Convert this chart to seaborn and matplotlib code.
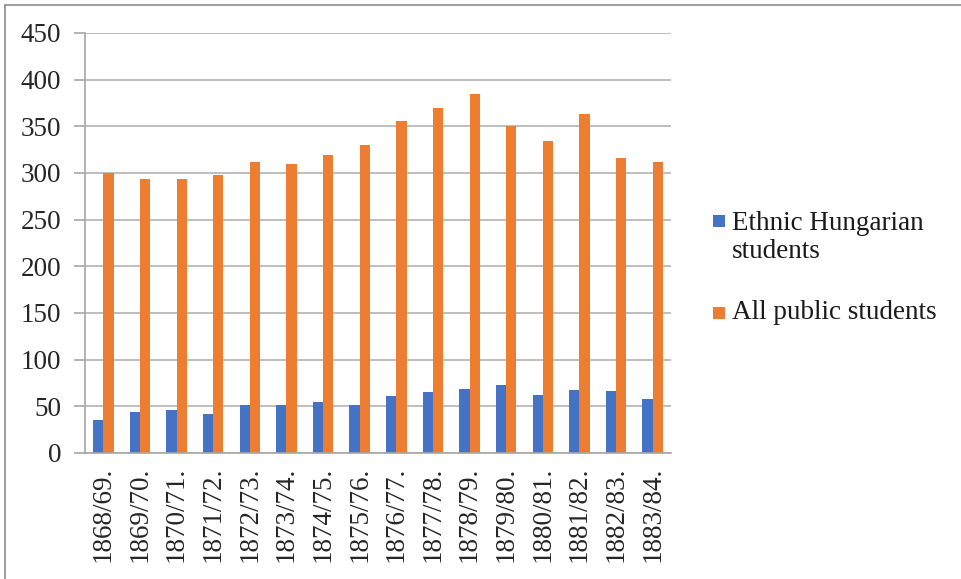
import matplotlib
matplotlib.use("Agg")
import matplotlib.pyplot as plt
from matplotlib.lines import Line2D
from matplotlib.patches import Rectangle
import seaborn as sns
import pandas as pd

# School years and enrolment counts
years = ["1868/69.", "1869/70.", "1870/71.", "1871/72.", "1872/73.", "1873/74.",
         "1874/75.", "1875/76.", "1876/77.", "1877/78.", "1878/79.", "1879/80.",
         "1880/81.", "1881/82.", "1882/83.", "1883/84."]
hungarian = [35, 44, 46, 42, 51, 51, 55, 51, 61, 65, 69, 73, 62, 67, 66, 58]
all_public = [300, 294, 294, 298, 312, 310, 319, 330, 356, 370, 385, 350, 334, 363, 316, 312]
series_names = ["Ethnic Hungarian students", "All public students"]
legend_lines = [["Ethnic Hungarian", "students"], ["All public students"]]
colors = ["#4472C4", "#ED7D31"]

df = pd.DataFrame({
    "year": years * 2,
    "count": hungarian + all_public,
    "series": [series_names[0]] * len(years) + [series_names[1]] * len(years),
})

sns.set_theme(style="white")
plt.rcParams["font.family"] = ["Liberation Serif", "DejaVu Serif"]

W, H = 962, 579
fig = plt.figure(figsize=(W / 100, H / 100), dpi=100)
ax = fig.add_axes([85 / W, 1 - 453 / H, (671 - 85) / W, (453 - 33) / H])

sns.barplot(data=df, x="year", y="count", hue="series", palette=colors,
            width=0.56, dodge=True, ax=ax, legend=False, saturation=1,
            edgecolor="none")

ax.set_ylim(0, 450)
ax.set_yticks(range(0, 451, 50))
ax.set_xlim(-0.5, len(years) - 0.5)
ax.yaxis.grid(True, color="#b3b3b3", linewidth=1.2)
ax.set_axisbelow(True)
ax.set_xlabel("")
ax.set_ylabel("")

for s in ["top", "right"]:
    ax.spines[s].set_visible(False)
for s in ["left", "bottom"]:
    ax.spines[s].set_color("#a6a6a6")
    ax.spines[s].set_linewidth(1.2)

# category separators on the x axis, ticks outward on y
ax.set_xticks([i for i in range(len(years))])
ax.set_xticklabels(years, rotation=90, fontsize=19.5)
ax.tick_params(axis="x", length=0, pad=10)
ax.set_xticks([i - 0.5 for i in range(len(years) + 1)], minor=True)
ax.tick_params(axis="x", which="minor", length=8, color="#a6a6a6", width=1.2,
               direction="out")
ax.tick_params(axis="y", length=8, color="#a6a6a6", width=1.2, labelsize=19.5,
               pad=9, direction="out", left=True)


def fx(px):
    return px / W


def fy(py):
    return 1 - py / H


# legend: colour square followed by the (wrapped) series name
legend_rows = [(215, [230, 258]), (307, [319])]
for color, lines, (sq_top, baselines) in zip(colors, legend_lines, legend_rows):
    fig.add_artist(Rectangle((fx(713), fy(sq_top + 12)), 12 / W, 12 / H,
                             facecolor=color, edgecolor="none",
                             transform=fig.transFigure))
    for text, base in zip(lines, baselines):
        fig.text(fx(732), fy(base), text, fontsize=19.5, color="#1a1a1a",
                 ha="left", va="baseline")

# outer frame lines at the top and left
fig.add_artist(Line2D([fx(5), 1], [fy(4.5)] * 2, color="#8c8c8c",
                      linewidth=1.2, transform=fig.transFigure))
fig.add_artist(Line2D([fx(5)] * 2, [0, fy(4.5)], color="#8c8c8c",
                      linewidth=1.2, transform=fig.transFigure))

fig.savefig("out.png", dpi=100, facecolor="white")
